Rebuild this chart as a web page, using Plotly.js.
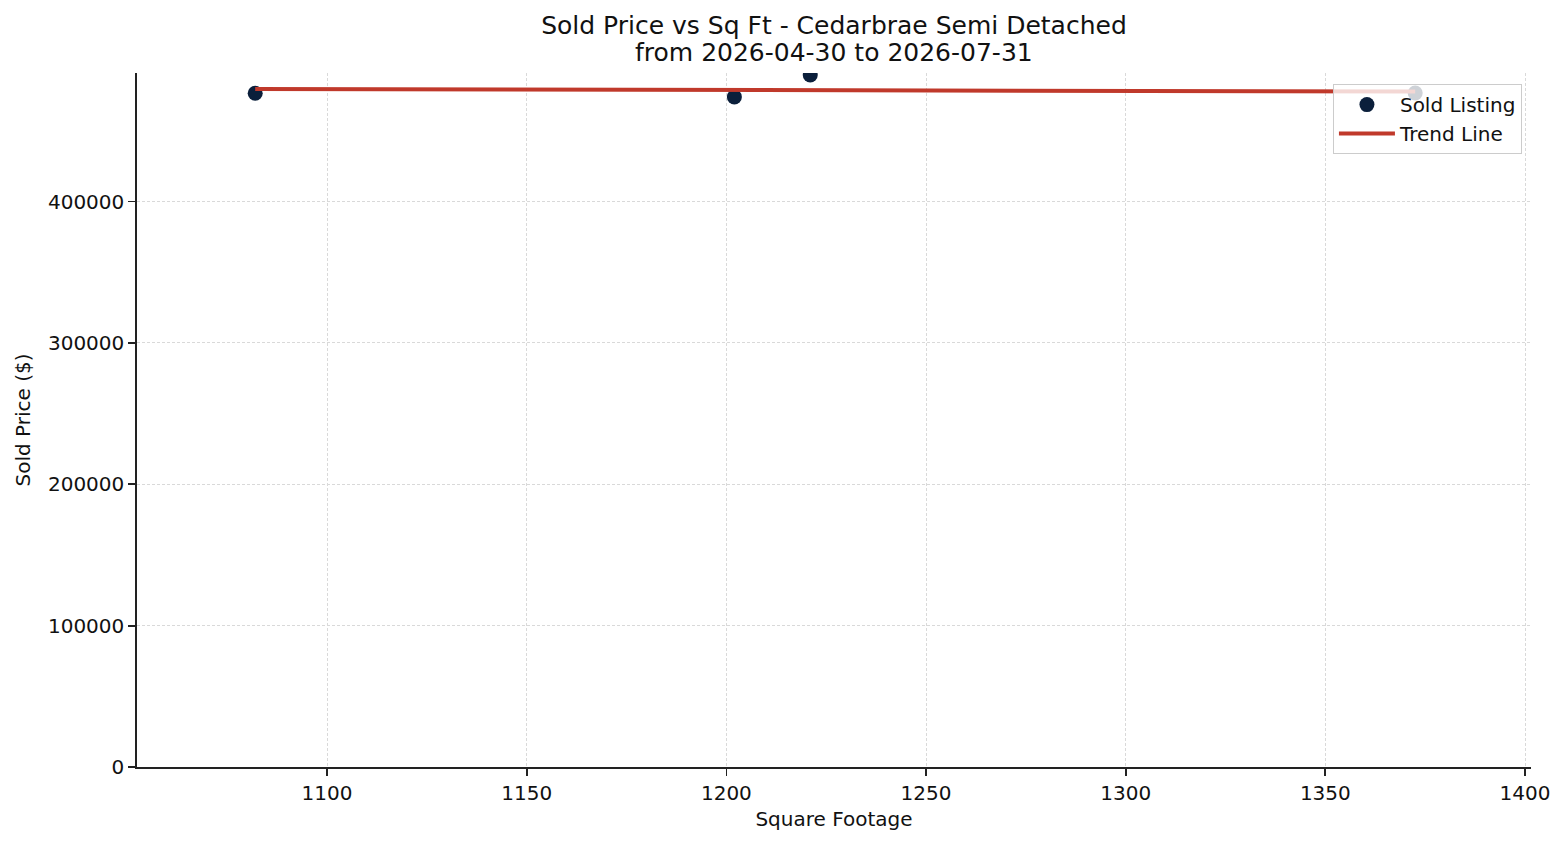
<!DOCTYPE html>
<html>
<head>
<meta charset="utf-8">
<script src="https://cdn.plot.ly/plotly-3.0.1.min.js"></script>
<style>
  html, body { margin: 0; padding: 0; background: #fff; }
  #chart { width: 1565px; height: 845px; }
</style>
</head>
<body>
<div id="chart"></div>
<script>
// Sold listings
const sqft = [1082, 1202, 1221, 1372.5];
const soldPrice = [476700, 474100, 489600, 476900];

// Trend line endpoints (min and max sq ft)
const trendX = [1082, 1372.5];
const trendY = [479700, 477900];

const xTicks = [1100, 1150, 1200, 1250, 1300, 1350, 1400];
const yTicks = [0, 100000, 200000, 300000, 400000];

const titleLine1 = 'Sold Price vs Sq Ft - Cedarbrae Semi Detached';
const titleLine2 = 'from 2026-04-30 to 2026-07-31';

const font = 'DejaVu Sans, sans-serif';
const ink = '#222222';

const data = [
    {
        x: sqft,
        y: soldPrice,
        type: 'scatter',
        mode: 'markers',
        name: 'Sold Listing',
        marker: { color: '#0b1f3b', size: 15, line: { width: 0 } }
    },
    {
        x: trendX,
        y: trendY,
        type: 'scatter',
        mode: 'lines',
        name: 'Trend Line',
        line: { color: '#c0392b', width: 4 }
    }
];

const axisCommon = {
    showline: true,
    linecolor: ink,
    linewidth: 1.7,
    ticks: 'outside',
    ticklen: 7,
    tickwidth: 1.7,
    tickcolor: ink,
    showgrid: true,
    gridcolor: '#d9d9d9',
    gridwidth: 1,
    griddash: '3px,2px',
    zeroline: false,
    tickfont: { family: font, size: 20, color: '#111' }
};

const layout = {
    width: 1565,
    height: 845,
    paper_bgcolor: '#ffffff',
    plot_bgcolor: '#ffffff',
    margin: { l: 137, r: 34, t: 73, b: 78 },
    font: { family: font, color: '#111' },
    // first title line as the title, second one placed as annotation to get matplotlib's tighter spacing
    title: {
        text: titleLine1,
        font: { family: font, size: 25, color: '#111' },
        x: 0.5,
        xref: 'paper',
        xanchor: 'center',
        y: 1 - 25 / 845,
        yref: 'container',
        yanchor: 'middle'
    },
    annotations: [{
        text: titleLine2,
        font: { family: font, size: 25, color: '#111' },
        xref: 'paper',
        yref: 'paper',
        x: 0.5,
        xanchor: 'center',
        y: (767 - 53) / 694,
        yanchor: 'middle',
        showarrow: false
    }],
    xaxis: Object.assign({}, axisCommon, {
        range: [1052.4, 1401.5],
        tickvals: xTicks,
        ticktext: xTicks.map(String),
        title: { text: 'Square Footage', font: { family: font, size: 20, color: '#111' }, standoff: 8 }
    }),
    yaxis: Object.assign({}, axisCommon, {
        range: [0, 491000],
        tickvals: yTicks,
        ticktext: yTicks.map(String),
        title: { text: 'Sold Price ($)', font: { family: font, size: 20, color: '#111' }, standoff: 12 }
    }),
    showlegend: true,
    legend: {
        x: 0.9935,
        xanchor: 'right',
        y: 0.984,
        yanchor: 'top',
        bgcolor: 'rgba(255,255,255,0.8)',
        bordercolor: '#cccccc',
        borderwidth: 1,
        font: { family: font, size: 20, color: '#111' },
        itemwidth: 56
    }
};

Plotly.newPlot('chart', data, layout, { displayModeBar: false, staticPlot: true });
</script>
</body>
</html>
